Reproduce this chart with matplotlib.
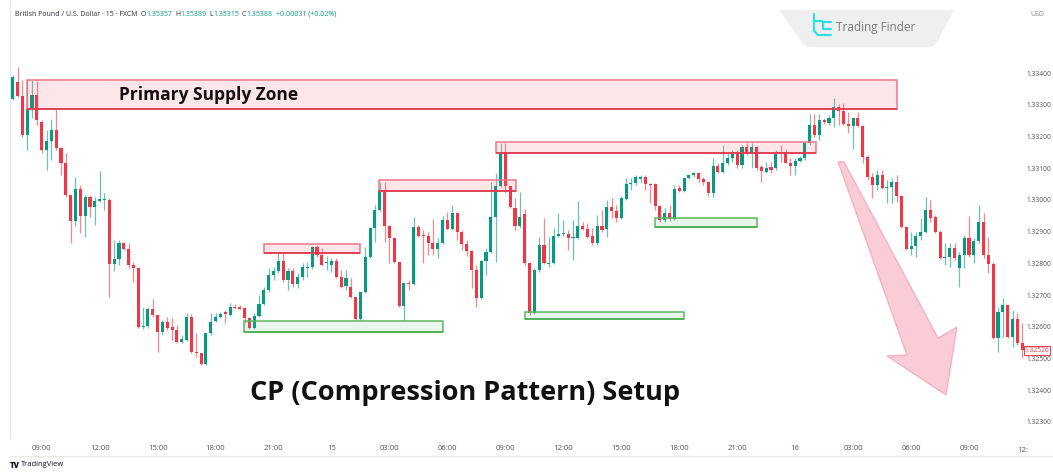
import matplotlib
matplotlib.use("Agg")
import matplotlib.pyplot as plt
import matplotlib.transforms as mtransforms
from matplotlib.patches import Rectangle, Polygon
from matplotlib.lines import Line2D
import numpy as np
import pandas as pd

plt.rcParams['font.family'] = ['Open Sans', 'DejaVu Sans']

W, H = 1053, 472

# ---------------- data (GBP/USD, 15 min) ----------------
start_time = "2025-10-14 07:30"

open_ = [
    1.33318, 1.33372, 1.33327, 1.33205, 1.33286, 1.33331, 1.33246, 1.33157, 1.33186, 1.33220,
    1.33164, 1.33116, 1.33015, 1.32933, 1.33034, 1.32949, 1.33009, 1.32978, 1.32996, 1.33000,
    1.33000, 1.32798, 1.32814, 1.32864, 1.32845, 1.32795, 1.32785, 1.32599, 1.32602, 1.32656,
    1.32637, 1.32583, 1.32615, 1.32599, 1.32590, 1.32552, 1.32558, 1.32631, 1.32520, 1.32517,
    1.32483, 1.32580, 1.32618, 1.32631, 1.32647, 1.32637, 1.32662, 1.32662, 1.32659, 1.32628,
    1.32596, 1.32634, 1.32672, 1.32716, 1.32763, 1.32776, 1.32807, 1.32747, 1.32776, 1.32735,
    1.32757, 1.32785, 1.32788, 1.32852, 1.32826, 1.32801, 1.32795, 1.32807, 1.32757, 1.32729,
    1.32725, 1.32694, 1.32625, 1.32710, 1.32820, 1.32911, 1.32968, 1.33031, 1.32918, 1.32880,
    1.32804, 1.32665, 1.32738, 1.32735, 1.32915, 1.32889, 1.32886, 1.32864, 1.32845, 1.32864,
    1.32937, 1.32908, 1.32959, 1.32899, 1.32861, 1.32839, 1.32779, 1.32691, 1.32807, 1.32836,
    1.32946, 1.33044, 1.33151, 1.33044, 1.32974, 1.32918, 1.32955, 1.32801, 1.32643, 1.32779,
    1.32858, 1.32798, 1.32801, 1.32886, 1.32892, 1.32892, 1.32880, 1.32880, 1.32918, 1.32908,
    1.32886, 1.32864, 1.32918, 1.32908, 1.32978, 1.32965, 1.32943, 1.33003, 1.33050, 1.33053,
    1.33066, 1.33072, 1.33050, 1.33050, 1.32981, 1.32937, 1.32959, 1.32940, 1.33037, 1.33028,
    1.33069, 1.33078, 1.33085, 1.33066, 1.33056, 1.33022, 1.33107, 1.33088, 1.33116, 1.33132,
    1.33148, 1.33110, 1.33167, 1.33145, 1.33167, 1.33104, 1.33088, 1.33104, 1.33100, 1.33148,
    1.33148, 1.33116, 1.33107, 1.33122, 1.33132, 1.33179, 1.33236, 1.33205, 1.33252, 1.33242,
    1.33258, 1.33293, 1.33280, 1.33239, 1.33233, 1.33258, 1.33233, 1.33135, 1.33072, 1.33047,
    1.33078, 1.33037, 1.33041, 1.33056, 1.33012, 1.32915, 1.32845, 1.32855, 1.32886, 1.32899,
    1.32968, 1.32946, 1.32899, 1.32817, 1.32820, 1.32848, 1.32785, 1.32826, 1.32880, 1.32826,
    1.32870, 1.32930, 1.32826, 1.32798, 1.32565, 1.32647, 1.32669, 1.32568, 1.32625, 1.32549,
]
high = [
    1.33394, 1.33419, 1.33378, 1.33378, 1.33378, 1.33375, 1.33252, 1.33220, 1.33255, 1.33286,
    1.33167, 1.33148, 1.33015, 1.33072, 1.33047, 1.33015, 1.33015, 1.33009, 1.33091, 1.33022,
    1.33006, 1.32874, 1.32874, 1.32867, 1.32864, 1.32804, 1.32788, 1.32662, 1.32662, 1.32688,
    1.32637, 1.32621, 1.32631, 1.32628, 1.32606, 1.32574, 1.32643, 1.32640, 1.32580, 1.32517,
    1.32580, 1.32643, 1.32643, 1.32647, 1.32653, 1.32675, 1.32672, 1.32669, 1.32662, 1.32631,
    1.32643, 1.32700, 1.32725, 1.32785, 1.32788, 1.32836, 1.32833, 1.32785, 1.32785, 1.32770,
    1.32801, 1.32804, 1.32855, 1.32858, 1.32848, 1.32823, 1.32817, 1.32817, 1.32779, 1.32779,
    1.32754, 1.32694, 1.32710, 1.32852, 1.32911, 1.32984, 1.33056, 1.33056, 1.32921, 1.32883,
    1.32804, 1.32738, 1.32747, 1.32946, 1.32921, 1.32905, 1.32899, 1.32940, 1.32880, 1.32949,
    1.32962, 1.32984, 1.32962, 1.32905, 1.32874, 1.32842, 1.32795, 1.32810, 1.32848, 1.33056,
    1.33085, 1.33179, 1.33179, 1.33044, 1.33006, 1.33025, 1.32971, 1.32804, 1.32785, 1.32883,
    1.32943, 1.32883, 1.32911, 1.32959, 1.32937, 1.32905, 1.32937, 1.32996, 1.32930, 1.32927,
    1.32911, 1.32952, 1.32968, 1.33000, 1.33006, 1.32984, 1.33012, 1.33069, 1.33069, 1.33078,
    1.33078, 1.33078, 1.33053, 1.33053, 1.32984, 1.32974, 1.32984, 1.33047, 1.33047, 1.33069,
    1.33082, 1.33088, 1.33088, 1.33072, 1.33059, 1.33132, 1.33116, 1.33173, 1.33151, 1.33157,
    1.33157, 1.33173, 1.33179, 1.33179, 1.33170, 1.33110, 1.33119, 1.33119, 1.33157, 1.33173,
    1.33160, 1.33132, 1.33132, 1.33138, 1.33182, 1.33271, 1.33271, 1.33271, 1.33258, 1.33268,
    1.33321, 1.33302, 1.33305, 1.33277, 1.33258, 1.33277, 1.33236, 1.33141, 1.33085, 1.33094,
    1.33094, 1.33063, 1.33069, 1.33078, 1.33015, 1.32918, 1.32899, 1.32899, 1.32943, 1.33009,
    1.33000, 1.32952, 1.32905, 1.32864, 1.32864, 1.32864, 1.32836, 1.32889, 1.32949, 1.32880,
    1.32984, 1.32959, 1.32883, 1.32804, 1.32662, 1.32691, 1.32669, 1.32653, 1.32643, 1.32612,
]
low = [
    1.33315, 1.33324, 1.33198, 1.33157, 1.33258, 1.33236, 1.33148, 1.33094, 1.33126, 1.33157,
    1.33078, 1.33009, 1.32864, 1.32918, 1.32896, 1.32883, 1.32946, 1.32921, 1.32993, 1.32968,
    1.32694, 1.32776, 1.32795, 1.32842, 1.32785, 1.32741, 1.32596, 1.32593, 1.32596, 1.32631,
    1.32520, 1.32574, 1.32590, 1.32558, 1.32549, 1.32549, 1.32555, 1.32517, 1.32505, 1.32480,
    1.32480, 1.32574, 1.32615, 1.32628, 1.32612, 1.32634, 1.32656, 1.32656, 1.32612, 1.32593,
    1.32593, 1.32631, 1.32669, 1.32710, 1.32747, 1.32770, 1.32741, 1.32716, 1.32725, 1.32722,
    1.32747, 1.32757, 1.32782, 1.32820, 1.32792, 1.32779, 1.32773, 1.32754, 1.32722, 1.32716,
    1.32691, 1.32621, 1.32621, 1.32707, 1.32817, 1.32867, 1.32965, 1.32867, 1.32801, 1.32801,
    1.32662, 1.32621, 1.32716, 1.32732, 1.32883, 1.32801, 1.32826, 1.32826, 1.32817, 1.32861,
    1.32905, 1.32905, 1.32874, 1.32842, 1.32823, 1.32722, 1.32662, 1.32688, 1.32763, 1.32833,
    1.32804, 1.33041, 1.33022, 1.32974, 1.32905, 1.32911, 1.32795, 1.32637, 1.32640, 1.32773,
    1.32798, 1.32788, 1.32798, 1.32883, 1.32886, 1.32842, 1.32810, 1.32877, 1.32905, 1.32880,
    1.32858, 1.32858, 1.32899, 1.32883, 1.32943, 1.32930, 1.32940, 1.33000, 1.33031, 1.33047,
    1.33056, 1.33031, 1.32990, 1.32968, 1.32930, 1.32930, 1.32933, 1.32937, 1.33025, 1.33025,
    1.33066, 1.33072, 1.33056, 1.33047, 1.33012, 1.33009, 1.33085, 1.33085, 1.33110, 1.33119,
    1.33100, 1.33100, 1.33141, 1.33100, 1.33094, 1.33056, 1.33085, 1.33085, 1.33094, 1.33119,
    1.33116, 1.33078, 1.33078, 1.33119, 1.33126, 1.33173, 1.33198, 1.33189, 1.33239, 1.33236,
    1.33230, 1.33236, 1.33236, 1.33211, 1.33160, 1.33230, 1.33116, 1.33063, 1.33006, 1.33031,
    1.33034, 1.32990, 1.32990, 1.32993, 1.32911, 1.32842, 1.32826, 1.32820, 1.32874, 1.32896,
    1.32930, 1.32896, 1.32814, 1.32795, 1.32788, 1.32810, 1.32725, 1.32785, 1.32820, 1.32801,
    1.32864, 1.32817, 1.32770, 1.32561, 1.32520, 1.32568, 1.32565, 1.32536, 1.32543, 1.32502,
]
close = [
    1.33387, 1.33327, 1.33205, 1.33286, 1.33331, 1.33252, 1.33157, 1.33186, 1.33220, 1.33164,
    1.33116, 1.33015, 1.32933, 1.33034, 1.32949, 1.33009, 1.32978, 1.32996, 1.33003, 1.33003,
    1.32798, 1.32814, 1.32864, 1.32845, 1.32795, 1.32785, 1.32599, 1.32602, 1.32656, 1.32637,
    1.32583, 1.32615, 1.32596, 1.32590, 1.32552, 1.32561, 1.32631, 1.32520, 1.32517, 1.32483,
    1.32580, 1.32615, 1.32631, 1.32640, 1.32640, 1.32662, 1.32659, 1.32656, 1.32628, 1.32596,
    1.32634, 1.32672, 1.32716, 1.32763, 1.32776, 1.32807, 1.32747, 1.32776, 1.32735, 1.32757,
    1.32788, 1.32788, 1.32852, 1.32826, 1.32795, 1.32804, 1.32807, 1.32757, 1.32725, 1.32754,
    1.32694, 1.32625, 1.32710, 1.32820, 1.32911, 1.32968, 1.33031, 1.32918, 1.32880, 1.32804,
    1.32665, 1.32738, 1.32735, 1.32915, 1.32886, 1.32886, 1.32864, 1.32845, 1.32864, 1.32937,
    1.32908, 1.32959, 1.32899, 1.32861, 1.32839, 1.32779, 1.32691, 1.32807, 1.32836, 1.32946,
    1.33044, 1.33151, 1.33044, 1.32978, 1.32918, 1.32946, 1.32801, 1.32643, 1.32779, 1.32858,
    1.32801, 1.32801, 1.32886, 1.32892, 1.32896, 1.32880, 1.32883, 1.32918, 1.32908, 1.32883,
    1.32864, 1.32918, 1.32905, 1.32978, 1.32965, 1.32943, 1.33006, 1.33050, 1.33053, 1.33072,
    1.33072, 1.33050, 1.33047, 1.32981, 1.32937, 1.32959, 1.32940, 1.33034, 1.33028, 1.33069,
    1.33078, 1.33085, 1.33066, 1.33056, 1.33022, 1.33107, 1.33088, 1.33116, 1.33132, 1.33148,
    1.33110, 1.33167, 1.33145, 1.33167, 1.33100, 1.33091, 1.33100, 1.33094, 1.33148, 1.33145,
    1.33116, 1.33107, 1.33122, 1.33132, 1.33179, 1.33236, 1.33205, 1.33252, 1.33246, 1.33258,
    1.33293, 1.33280, 1.33239, 1.33233, 1.33258, 1.33233, 1.33135, 1.33072, 1.33047, 1.33078,
    1.33037, 1.33041, 1.33056, 1.33012, 1.32915, 1.32845, 1.32855, 1.32886, 1.32899, 1.32968,
    1.32943, 1.32899, 1.32817, 1.32820, 1.32848, 1.32817, 1.32826, 1.32880, 1.32826, 1.32870,
    1.32930, 1.32826, 1.32798, 1.32565, 1.32647, 1.32669, 1.32568, 1.32625, 1.32549, 1.32526,
]

last_price = 1.32526
price_ticks = [1.323, 1.324, 1.325, 1.326, 1.327, 1.328, 1.329, 1.330, 1.331, 1.332, 1.333, 1.334]

# zones: x in candle index units, prices
zone_x0 = [2.96, 52.0, 47.95, 75.9, 100.06, 106.07, 133.0]
zone_x1 = [183.1, 72.0, 89.1, 104.1, 166.3, 139.05, 154.2]
zone_lo = [1.33286, 1.32834, 1.32585, 1.33028, 1.33149, 1.32625, 1.32915]
zone_hi = [1.33378, 1.32860, 1.32618, 1.33063, 1.33184, 1.32648, 1.32944]
zone_kind = ["supply", "supply", "demand", "supply", "supply", "demand", "demand"]

# big arrow outline (candle index, price)
arrow_x = [170.87, 185.15, 181.01, 193.23, 195.50, 191.57, 172.11]
arrow_y = [1.33120, 1.32511, 1.32508, 1.32385, 1.32599, 1.32565, 1.33120]

header_parts = [
    ("British Pound / U.S. Dollar · 15 · FXCM", "#2a2e39", 3.0),
    ("O", "#2a2e39", 0.2), ("1.35357", "#089981", 3.0),
    ("H", "#2a2e39", 0.2), ("1.35389", "#089981", 3.0),
    ("L", "#2a2e39", 0.2), ("1.35315", "#089981", 3.0),
    ("C", "#2a2e39", 0.2), ("1.35388", "#089981", 3.0),
    ("+0.00031 (+0.02%)", "#089981", 0),
]

UP = "#089981"
DOWN = "#f23645"

# ---------------- figure ----------------
fig = plt.figure(figsize=(W / 100, H / 100), dpi=100)
fig.patch.set_facecolor("white")

ax_left, ax_right, ax_bottom_px = 10, 1024.6, 438
ax = fig.add_axes([ax_left / W, (H - ax_bottom_px) / H, (ax_right - ax_left) / W, ax_bottom_px / H])
ax.set_facecolor("white")

n = len(close)
xs = np.arange(n)
o = np.array(open_)
c = np.array(close)
hi = np.maximum(np.array(high), np.maximum(o, c))
lo = np.minimum(np.array(low), np.minimum(o, c))
colors = np.where(c >= o, UP, DOWN)

ax.vlines(xs, lo, hi, colors=colors, linewidth=0.9, alpha=0.6, zorder=2)
body_h = np.maximum(np.abs(c - o), 0.000025)
ax.bar(xs, body_h, bottom=np.minimum(o, c), width=0.64, color=colors, linewidth=0, zorder=3)

# zones
for x0, x1, plo, phi, kind in zip(zone_x0, zone_x1, zone_lo, zone_hi, zone_kind):
    if kind == "supply":
        fc, ec, ec2 = (0.95, 0.33, 0.40, 0.14), "#ec7785", "#e0364a"
    else:
        fc, ec, ec2 = (0.30, 0.68, 0.45, 0.12), "#5cb660", "#4caf50"
    ax.add_patch(Rectangle((x0, plo), x1 - x0, phi - plo, facecolor=fc, edgecolor=ec,
                           linewidth=1.1, zorder=4))
    ax.plot([x0, x1], [plo, plo], color=ec2, linewidth=1.2, zorder=4.1,
            solid_capstyle="butt")

# arrow
ax.add_patch(Polygon(list(zip(arrow_x, arrow_y)), closed=True, facecolor="#f7bccb",
                     edgecolor="#f2a3b6", linewidth=1.0, alpha=0.75, zorder=5))

# texts on chart
ax.text(22.0, 1.33331, "Primary Supply Zone", fontsize=12.5, fontweight="bold",
        color="#111111", ha="left", va="center", zorder=6)
ax.text(93.6, 1.32392, "CP (Compression Pattern) Setup", fontsize=19.5, fontweight="bold",
        color="#111111", ha="center", va="center", zorder=6)

# axes limits
ax.set_xlim((ax_left - 12.7) / 4.83, (ax_right - 12.7) / 4.83)
ax.set_ylim(1.322495, 1.336301)

# time ticks
times = pd.date_range(start_time, periods=n + 1, freq="15min")
tick_idx = [i for i, t in enumerate(times) if t.minute == 0 and t.hour % 3 == 0 and i < n]
tick_lbl = [str(times[i].day) if times[i].hour == 0 else times[i].strftime("%H:%M") for i in tick_idx]
ax.set_xticks(tick_idx)
ax.set_xticklabels(tick_lbl)
ax.tick_params(axis="x", length=0, pad=5, labelsize=5.5, labelcolor="#505050")
trans_x = mtransforms.blended_transform_factory(ax.transData, ax.transAxes)
ax.text(n - 1 + 0.2, -0.0205, "12:", transform=trans_x, fontsize=5.5, color="#505050",
        ha="center", va="top", clip_on=False)

# price ticks
ax.yaxis.tick_right()
ax.set_yticks(price_ticks)
ax.set_yticklabels([f"{p:.5f}" for p in price_ticks])
ax.tick_params(axis="y", length=0, pad=1.5, labelsize=4.8, labelcolor="#505050")

for s in ["top", "right", "bottom"]:
    ax.spines[s].set_visible(False)
ax.spines["left"].set_color("#e6e6e6")
ax.spines["left"].set_linewidth(0.8)

# last price label
trans_y = mtransforms.blended_transform_factory(ax.transAxes, ax.transData)
ax.text(1.0, last_price, f"{last_price:.5f}", transform=trans_y, fontsize=4.8, color=DOWN,
        ha="left", va="center", clip_on=False, zorder=7,
        bbox=dict(boxstyle="square,pad=0.15", fc="white", ec=DOWN, lw=0.7))

# currency label top-right
fig.text(1030 / W, 1 - 15 / H, "USD", fontsize=5, color="#8a8a8a", ha="left", va="center")

# header (chained texts)
renderer = fig.canvas.get_renderer()
x_px = 15
for s, col, gap in header_parts:
    t = fig.text(x_px / W, 1 - 14 / H, s, fontsize=5.0, color=col, ha="left", va="center")
    bb = t.get_window_extent(renderer)
    x_px = bb.x1 + gap

# bottom frame line and TradingView mark
fig.add_artist(Line2D([10 / W, 1.0], [1 - 456 / H, 1 - 456 / H], color="#e8e8e8", lw=0.8))
fig.text(10 / W, 1 - 465 / H, "TV", fontsize=5.5, fontweight="heavy", color="#131722",
         ha="left", va="center")
fig.text(21 / W, 1 - 465 / H, "TradingView", fontsize=5.5, color="#131722", ha="left", va="center")

# Trading Finder logo
logo = Polygon([(779 / W, 1 - 10 / H), (954 / W, 1 - 10 / H), (936 / W, 1 - 44 / H),
                (930 / W, 1 - 47 / H), (809 / W, 1 - 47 / H), (803 / W, 1 - 44 / H)],
               closed=True, transform=fig.transFigure, facecolor="#efefef", edgecolor="none")
fig.add_artist(logo)
cyan = "#2ee0e6"
icon_paths = [
    [(814, 14), (814, 31), (818, 35), (831, 35)],
    [(814, 21), (822, 21)],
    [(831, 22), (823, 22), (823, 29), (831, 29)],
]
for path in icon_paths:
    fig.add_artist(Line2D([p[0] / W for p in path], [1 - p[1] / H for p in path],
                          color=cyan, lw=1.6, solid_capstyle="round", solid_joinstyle="round"))
fig.text(836 / W, 1 - 28 / H, "Trading Finder", fontsize=8.5, color="#7a7a7a",
         ha="left", va="center")

fig.savefig("out.png", dpi=100, facecolor="white")
